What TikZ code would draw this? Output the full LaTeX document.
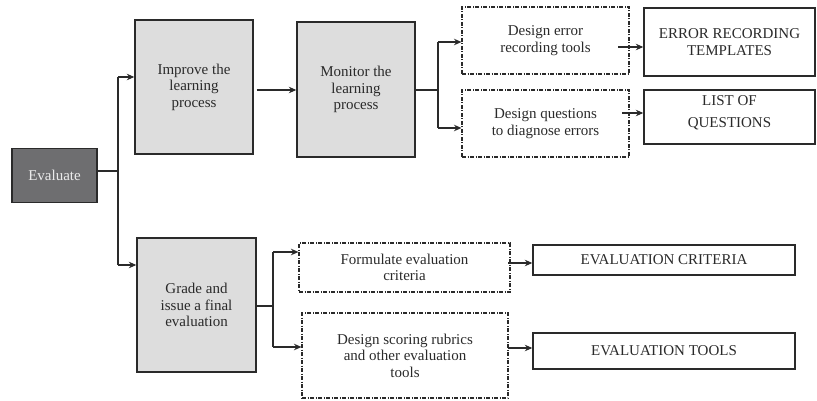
\documentclass[tikz,border=0pt]{standalone}
\usepackage{fontspec}
\setmainfont{Liberation Serif}
\usetikzlibrary{arrows.meta}
\definecolor{darkbox}{HTML}{6E6E70}
\definecolor{lightbox}{HTML}{DDDDDD}
\definecolor{ink}{HTML}{2A2A2A}
\tikzset{
  base/.style={inner sep=0pt, align=center, font=\fontsize{15}{16.5}\selectfont, text=ink},
  darkstyle/.style={base, draw=ink, line width=1.4pt, fill=darkbox, text=white!92!black},
  graystyle/.style={base, draw=ink, line width=1.4pt, fill=lightbox},
  dashbox/.style={base, draw=ink, line width=1.1pt, dash pattern=on 4pt off 1.5pt on 1pt off 1.5pt},
  outbox/.style={base, draw=ink, line width=1.4pt, fill=white},
  conn/.style={draw=ink, line width=1.1pt},
  arr/.style={conn, -{Stealth[length=7.5pt,width=6.5pt,inset=2.5pt]}}
}
\begin{document}
\begin{tikzpicture}[x=1pt,y=-1pt]
\useasboundingbox (0,0) rectangle (817,401);
% nodes
\node[darkstyle, minimum width=85pt, minimum height=54pt] (eval) at (54.5,175.5) {Evaluate};
\node[graystyle, minimum width=118pt, minimum height=134pt] (improve) at (194,87) {Improve the\\learning\\process};
\node[graystyle, minimum width=118pt, minimum height=135pt] (monitor) at (356,89.5) {Monitor the\\learning\\process};
\node[graystyle, minimum width=119pt, minimum height=134pt] (grade) at (196.5,305) {Grade and\\issue a final\\evaluation};
\node[dashbox, minimum width=167pt, minimum height=67pt] (de1) at (545.5,40.5) {Design error\\recording tools};
\node[dashbox, minimum width=167pt, minimum height=67pt] (de2) at (545.5,123.5) {Design questions\\to diagnose errors};
\node[outbox, minimum width=171pt, minimum height=68pt] (ert) at (729.5,42) {ERROR RECORDING\\TEMPLATES};
\node[outbox, minimum width=171pt, minimum height=54pt] (lq) at (729.5,117) {LIST OF\\[5pt]QUESTIONS\\[-6pt]\mbox{}};
\node[dashbox, minimum width=211pt, minimum height=49pt] (form) at (404.5,267.5) {Formulate evaluation\\criteria};
\node[dashbox, minimum width=206pt, minimum height=85pt] (dsr) at (405,355.5) {Design scoring rubrics\\and other evaluation\\tools};
\node[outbox, minimum width=262pt, minimum height=30pt] (ec) at (664,260) {EVALUATION CRITERIA};
\node[outbox, minimum width=262pt, minimum height=36pt] (et) at (664,351) {EVALUATION TOOLS};
% junction coordinates
\coordinate (j0) at (118,171);
\coordinate (t1) at (118,77);
\coordinate (t2) at (118,265);
\coordinate (m0) at (438,90);
\coordinate (m1) at (438,42);
\coordinate (m2) at (438,128);
\coordinate (g0) at (273,306);
\coordinate (g1) at (273,252);
\coordinate (g2) at (273,347);
\coordinate (s1) at (618,47);
\coordinate (s2) at (622,113);
\coordinate (s3) at (508,263);
\coordinate (s4) at (508,348);
% connectors
\draw[conn] (eval.east |- j0) -- (j0);
\draw[conn] (t1) -- (t2);
\draw[arr] (t1) -- (t1 -| improve.west);
\draw[arr] (t2) -- (t2 -| grade.west);
\draw[arr] ([xshift=3pt]improve.east |- m0) -- (monitor.west |- m0);
\draw[conn] (monitor.east |- m0) -- (m0);
\draw[conn] (m1) -- (m2);
\draw[arr] (m1) -- (m1 -| de1.west);
\draw[arr] (m2) -- (m2 -| de2.west);
\draw[arr] (s1) -- (s1 -| ert.west);
\draw[arr] (s2) -- (s2 -| lq.west);
\draw[conn] (grade.east |- g0) -- (g0);
\draw[conn] (g1) -- (g2);
\draw[arr] (g1) -- (g1 -| form.west);
\draw[arr] (g2) -- (g2 -| dsr.west);
\draw[arr] (s3) -- (s3 -| ec.west);
\draw[arr] (s4) -- (s4 -| et.west);
\end{tikzpicture}
\end{document}
